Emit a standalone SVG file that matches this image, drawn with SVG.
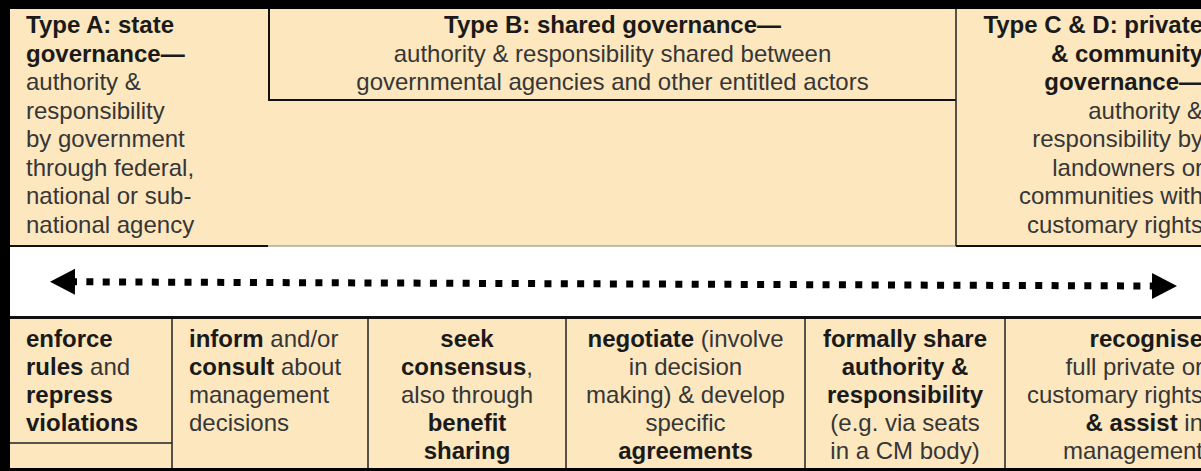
<svg xmlns="http://www.w3.org/2000/svg" width="1201" height="471" viewBox="0 0 1201 471">
<style>
text{font-family:"Liberation Sans",Arial,sans-serif;font-size:24px;fill:#363636}
.b{font-weight:bold;fill:#1a1a1a}
.fill{fill:#fce7bf}
.edge{stroke:#111;stroke-width:2;fill:none}
.thin{stroke:#222;stroke-width:1.5;fill:none}
.mid{text-anchor:middle}
.end{text-anchor:end}
</style>
<defs>
<marker id="head" markerUnits="userSpaceOnUse" markerWidth="28" markerHeight="28" refX="0" refY="13" orient="auto-start-reverse" viewBox="0 0 28 28">
<path d="M0,0 L25,13 L0,26 Z" fill="#000"/>
</marker>
</defs>
<rect x="0" y="0" width="1201" height="471" fill="#fff"/>
<rect class="fill" x="10" y="9" width="1191" height="237"/>
<rect class="fill" x="10" y="318" width="1191" height="150"/>
<line x1="268" y1="246" x2="956" y2="246" stroke="#8c8272" stroke-width="1"/>
<rect x="0" y="0" width="1201" height="9" fill="#000"/>
<rect x="0" y="0" width="10" height="471" fill="#000"/>
<rect x="0" y="468" width="1201" height="3" fill="#000"/>
<rect x="10" y="316" width="1191" height="3" fill="#111"/>

<g id="typeA">
<line class="edge" x1="10" y1="246" x2="268" y2="246"/>
<text x="26" y="33"><tspan class="b">Type A: state</tspan></text>
<text x="26" y="61.5"><tspan class="b">governance—</tspan></text>
<text x="26" y="90">authority &amp;</text>
<text x="26" y="118.5">responsibility</text>
<text x="26" y="147">by government</text>
<text x="26" y="175.5">through federal,</text>
<text x="26" y="204">national or sub-</text>
<text x="26" y="232.5">national agency</text>
</g>

<g id="typeB">
<path class="edge" d="M269,9 V100 H956"/>
<text class="mid" x="612.5" y="33"><tspan class="b">Type B: shared governance—</tspan></text>
<text class="mid" x="612.5" y="61.5">authority &amp; responsibility shared between</text>
<text class="mid" x="612.5" y="90">governmental agencies and other entitled actors</text>
</g>

<g id="typeCD">
<line class="thin" x1="956" y1="9" x2="956" y2="246"/>
<line class="edge" x1="956" y1="246" x2="1201" y2="246"/>
<text class="end" x="1203" y="33"><tspan class="b">Type C &amp; D: private</tspan></text>
<text class="end" x="1203" y="61.5"><tspan class="b">&amp; community</tspan></text>
<text class="end" x="1203" y="90"><tspan class="b">governance—</tspan></text>
<text class="end" x="1203" y="118.5">authority &amp;</text>
<text class="end" x="1203" y="147">responsibility by</text>
<text class="end" x="1203" y="175.5">landowners or</text>
<text class="end" x="1203" y="204">communities with</text>
<text class="end" x="1203" y="232.5">customary rights</text>
</g>

<g id="connectors">
<line x1="75" y1="281.8" x2="1152" y2="286" stroke="#000" stroke-width="7" stroke-dasharray="7 9.36" stroke-dashoffset="5" marker-start="url(#head)" marker-end="url(#head)"/>
</g>

<g id="enforce">
<line class="thin" x1="10" y1="443" x2="172" y2="443"/>
<text x="26" y="346.5"><tspan class="b">enforce</tspan></text>
<text x="26" y="374.7"><tspan class="b">rules</tspan> and</text>
<text x="26" y="402.9"><tspan class="b">repress</tspan></text>
<text x="26" y="431.1"><tspan class="b">violations</tspan></text>
</g>

<g id="inform">
<line class="thin" x1="172" y1="319" x2="172" y2="468"/>
<text x="189" y="346.5"><tspan class="b">inform</tspan> and/or</text>
<text x="189" y="374.7"><tspan class="b">consult</tspan> about</text>
<text x="189" y="402.9">management</text>
<text x="189" y="431.1">decisions</text>
</g>

<g id="seek">
<line class="thin" x1="368" y1="319" x2="368" y2="468"/>
<text class="mid" x="467" y="346.5"><tspan class="b">seek</tspan></text>
<text class="mid" x="467" y="374.7"><tspan class="b">consensus</tspan>,</text>
<text class="mid" x="467" y="402.9">also through</text>
<text class="mid" x="467" y="431.1"><tspan class="b">benefit</tspan></text>
<text class="mid" x="467" y="459.3"><tspan class="b">sharing</tspan></text>
</g>

<g id="negotiate">
<line class="thin" x1="566" y1="319" x2="566" y2="468"/>
<text class="mid" x="685.5" y="346.5"><tspan class="b">negotiate</tspan> (involve</text>
<text class="mid" x="685.5" y="374.7">in decision</text>
<text class="mid" x="685.5" y="402.9">making) &amp; develop</text>
<text class="mid" x="685.5" y="431.1">specific</text>
<text class="mid" x="685.5" y="459.3"><tspan class="b">agreements</tspan></text>
</g>

<g id="share">
<line class="thin" x1="805" y1="319" x2="805" y2="468"/>
<text class="mid" x="905" y="346.5"><tspan class="b">formally share</tspan></text>
<text class="mid" x="905" y="374.7"><tspan class="b">authority &amp;</tspan></text>
<text class="mid" x="905" y="402.9"><tspan class="b">responsibility</tspan></text>
<text class="mid" x="905" y="431.1">(e.g. via seats</text>
<text class="mid" x="905" y="459.3">in a CM body)</text>
</g>

<g id="recognise">
<line class="thin" x1="1005" y1="319" x2="1005" y2="468"/>
<text class="end" x="1203" y="346.5"><tspan class="b">recognise</tspan></text>
<text class="end" x="1203" y="374.7">full private or</text>
<text class="end" x="1203" y="402.9">customary rights</text>
<text class="end" x="1203" y="431.1"><tspan class="b">&amp; assist</tspan> in</text>
<text class="end" x="1203" y="459.3">management</text>
</g>
</svg>
